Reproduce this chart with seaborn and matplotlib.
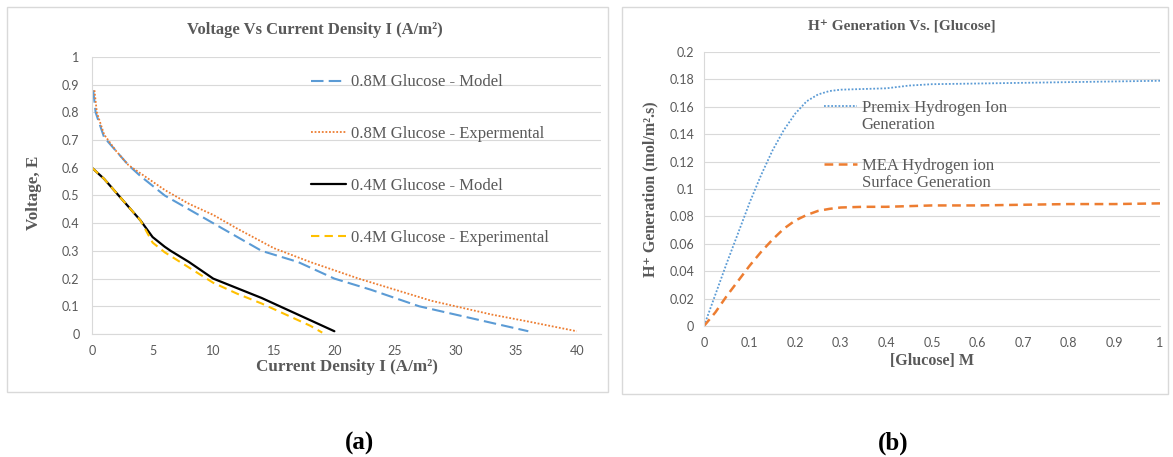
import numpy as np
import pandas as pd
import matplotlib
matplotlib.use("Agg")
import matplotlib.pyplot as plt
from matplotlib.patches import Rectangle
from matplotlib.lines import Line2D
from matplotlib.ticker import MultipleLocator, FuncFormatter
import seaborn as sns

# (a) voltage vs current density
model08_i = [0.1, 0.3, 1, 2, 3, 4, 6, 8, 10, 12, 14, 17, 20, 23, 27, 30, 33, 36]
model08_v = [0.88, 0.80, 0.71, 0.66, 0.61, 0.57, 0.50, 0.45, 0.40, 0.35, 0.30, 0.26, 0.20, 0.16, 0.10, 0.07, 0.04, 0.01]

exp08_i = [0.2, 0.4, 1, 2, 3, 4, 6, 8, 10, 12, 15, 18, 20, 22, 25, 28, 30, 33, 36, 40]
exp08_v = [0.88, 0.80, 0.72, 0.66, 0.61, 0.58, 0.52, 0.47, 0.43, 0.38, 0.31, 0.26, 0.23, 0.20, 0.16, 0.12, 0.10, 0.07, 0.045, 0.01]

model04_i = [0, 1, 2, 3, 4, 5, 6, 6.5, 8, 10, 12, 14, 16, 18, 20]
model04_v = [0.60, 0.56, 0.51, 0.46, 0.41, 0.35, 0.315, 0.30, 0.26, 0.20, 0.165, 0.13, 0.09, 0.05, 0.01]

exp04_i = [0, 1, 2, 3, 4, 4.5, 5, 6, 8, 10, 12, 14, 16, 18, 19]
exp04_v = [0.60, 0.56, 0.51, 0.46, 0.41, 0.37, 0.33, 0.295, 0.24, 0.185, 0.145, 0.11, 0.07, 0.03, 0.005]

# (b) H+ generation vs glucose
premix_c = [0, 0.025, 0.05, 0.075, 0.1, 0.125, 0.15, 0.175, 0.2, 0.225, 0.25, 0.275, 0.3, 0.35, 0.4, 0.45, 0.5, 0.6, 0.7, 0.8, 0.9, 1.0]
premix_h = [0, 0.023, 0.046, 0.068, 0.090, 0.110, 0.128, 0.143, 0.155, 0.164, 0.169, 0.1715, 0.1725, 0.173, 0.1735, 0.1755, 0.1765, 0.177, 0.1775, 0.178, 0.1785, 0.179]

mea_c = [0, 0.025, 0.05, 0.075, 0.1, 0.125, 0.15, 0.175, 0.2, 0.225, 0.25, 0.275, 0.3, 0.35, 0.4, 0.5, 0.6, 0.7, 0.8, 0.9, 1.0]
mea_h = [0, 0.010, 0.022, 0.033, 0.044, 0.054, 0.063, 0.071, 0.077, 0.081, 0.084, 0.0855, 0.0865, 0.087, 0.087, 0.088, 0.088, 0.0885, 0.089, 0.089, 0.0895]

sns.set_style("white")
plt.rcParams['font.family'] = ['Liberation Serif', 'DejaVu Serif']

GRAY = '#595959'
GRID = '#D9D9D9'
SERIF = ['Liberation Serif', 'DejaVu Serif']

fig = plt.figure(figsize=(11.73, 4.57), dpi=100)

# panel frames
fig.patches.append(Rectangle((7/1173, 1-392/457), 601/1173, 385/457, transform=fig.transFigure,
                             fill=False, edgecolor=GRID, lw=1))
fig.patches.append(Rectangle((622/1173, 1-394/457), 546/1173, 387/457, transform=fig.transFigure,
                             fill=False, edgecolor=GRID, lw=1))

ax1 = fig.add_axes([92/1173, 1-334/457, 509/1173, 277/457])
ax2 = fig.add_axes([704/1173, 1-326/457, 456/1173, 274/457])


def fmt(v, pos):
    return f"{round(v, 4):g}"


for ax in (ax1, ax2):
    ax.grid(axis='y', color=GRID, lw=0.8)
    ax.grid(axis='x', visible=False)
    for s in ('top', 'right'):
        ax.spines[s].set_visible(False)
    for s in ('left', 'bottom'):
        ax.spines[s].set_color(GRID)
        ax.spines[s].set_linewidth(0.8)
    ax.tick_params(length=0, labelcolor=GRAY, labelsize=9)
    for lab in ax.get_xticklabels() + ax.get_yticklabels():
        lab.set_family('Lato')
    ax.xaxis.set_major_formatter(FuncFormatter(fmt))
    ax.yaxis.set_major_formatter(FuncFormatter(fmt))

# --- panel (a)
sns.lineplot(x=model08_i, y=model08_v, ax=ax1, sort=False, estimator=None, color='#5B9BD5',
             lw=1.5, linestyle=(0, (6, 2.5)), label='0.8M Glucose - Model')
sns.lineplot(x=exp08_i, y=exp08_v, ax=ax1, sort=False, estimator=None, color='#ED7D31',
             lw=1.3, linestyle=(0, (1, 1)), label='0.8M Glucose - Expermental')
sns.lineplot(x=model04_i, y=model04_v, ax=ax1, sort=False, estimator=None, color='black',
             lw=1.6, linestyle='-', label='0.4M Glucose - Model')
sns.lineplot(x=exp04_i, y=exp04_v, ax=ax1, sort=False, estimator=None, color='#FFC000',
             lw=1.5, linestyle=(0, (4, 2.5)), label='0.4M Glucose - Experimental')

ax1.set_xlim(0, 42)
ax1.set_ylim(0, 1)
ax1.xaxis.set_major_locator(MultipleLocator(5))
ax1.yaxis.set_major_locator(MultipleLocator(0.1))
ax1.tick_params(axis='x', pad=8)
ax1.tick_params(axis='y', pad=9)

leg = ax1.legend(loc='upper left', bbox_to_anchor=(0.43, 0.937), frameon=False,
                 borderaxespad=0, borderpad=0, handlelength=2.1, handletextpad=0.3,
                 labelspacing=2.15, prop={'family': SERIF, 'size': 12})
for t in leg.get_texts():
    t.set_color(GRAY)

ax1.set_xlabel('Current Density I (A/m²)', fontsize=12.3, fontweight='bold', color=GRAY, family=SERIF)
ax1.xaxis.set_label_coords(0.501, -0.09)
ax1.set_ylabel('Voltage, E', fontsize=12.3, fontweight='bold', color=GRAY, family=SERIF)
ax1.yaxis.set_label_coords(-0.098, 0.509)

fig.text(315/1173, 1-30/457, 'Voltage Vs Current Density I (A/m²)', ha='center', va='center',
         fontsize=12, fontweight='bold', color=GRAY, family=SERIF)

# --- panel (b)
sns.lineplot(x=premix_c, y=premix_h, ax=ax2, sort=False, estimator=None, color='#5B9BD5',
             lw=1.3, linestyle=(0, (1, 1)))
sns.lineplot(x=mea_c, y=mea_h, ax=ax2, sort=False, estimator=None, color='#ED7D31',
             lw=1.8, linestyle=(0, (3.5, 2.2)))

ax2.set_xlim(0, 1)
ax2.set_ylim(0, 0.2)
ax2.xaxis.set_major_locator(MultipleLocator(0.1))
ax2.yaxis.set_major_locator(MultipleLocator(0.02))
ax2.tick_params(axis='x', pad=8)
ax2.tick_params(axis='y', pad=7)

# legend drawn by hand so the handle sits on the first line of each label
legend_items = [
    ('Premix Hydrogen Ion\nGeneration', '#5B9BD5', 1.3, (0, (1, 1)), 0.803),
    ('MEA Hydrogen ion\nSurface Generation', '#ED7D31', 1.8, (0, (3.5, 2.2)), 0.591),
]
for text, col, lw, ls, hy in legend_items:
    ax2.add_line(Line2D([0.263, 0.336], [hy, hy], transform=ax2.transAxes, color=col, lw=lw, linestyle=ls))
    ax2.text(0.346, hy + 0.021, text, transform=ax2.transAxes, ha='left', va='top',
             fontsize=12, color=GRAY, family=SERIF, linespacing=1.08)

ax2.set_xlabel('[Glucose] M', fontsize=11.5, fontweight='bold', color=GRAY, family=SERIF)
ax2.xaxis.set_label_coords(0.5, -0.1)
ax2.set_ylabel('H⁺ Generation (mol/m².s)', fontsize=11.5, fontweight='bold', color=GRAY, family=SERIF)
ax2.yaxis.set_label_coords(-0.099, 0.5)

fig.text(902/1173, 1-27/457, 'H⁺ Generation Vs. [Glucose]', ha='center', va='center',
         fontsize=11, fontweight='bold', color=GRAY, family=SERIF)

fig.text(360/1173, 1-443/457, '(a)', ha='center', va='center', fontsize=18, fontweight='bold',
         color='black', family=SERIF)
fig.text(893/1173, 1-443/457, '(b)', ha='center', va='center', fontsize=18, fontweight='bold',
         color='black', family=SERIF)

fig.savefig('out.png', dpi=100)
